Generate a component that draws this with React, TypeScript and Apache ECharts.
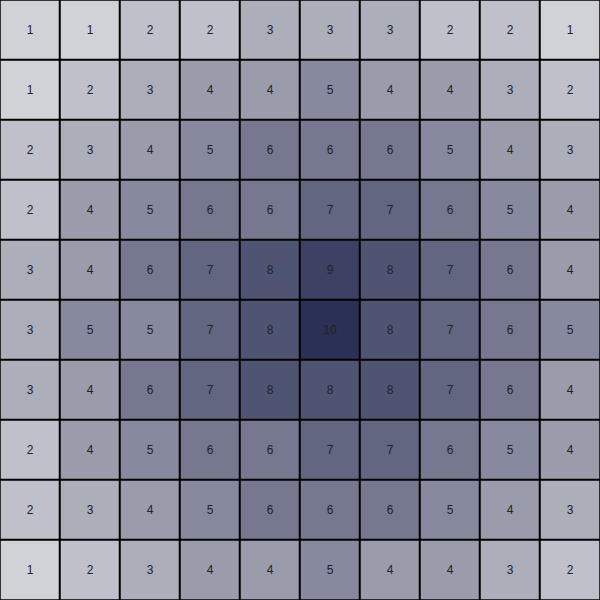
import React, { useEffect, useRef } from "react";
import * as echarts from "echarts";

const xCategories = ["0", "1", "2", "3", "4", "5", "6", "7", "8", "9"];
const yCategories = ["0", "1", "2", "3", "4", "5", "6", "7", "8", "9"];
// rows from top to bottom
const row0 = [1, 1, 2, 2, 3, 3, 3, 2, 2, 1];
const row1 = [1, 2, 3, 4, 4, 5, 4, 4, 3, 2];
const row2 = [2, 3, 4, 5, 6, 6, 6, 5, 4, 3];
const row3 = [2, 4, 5, 6, 6, 7, 7, 6, 5, 4];
const row4 = [3, 4, 6, 7, 8, 9, 8, 7, 6, 4];
const row5 = [3, 5, 5, 7, 8, 10, 8, 7, 6, 5];
const row6 = [3, 4, 6, 7, 8, 8, 8, 7, 6, 4];
const row7 = [2, 4, 5, 6, 6, 7, 7, 6, 5, 4];
const row8 = [2, 3, 4, 5, 6, 6, 6, 5, 4, 3];
const row9 = [1, 2, 3, 4, 4, 5, 4, 4, 3, 2];
const rows = [row0, row1, row2, row3, row4, row5, row6, row7, row8, row9];

export default function App() {
  const ref = useRef<HTMLDivElement>(null);
  useEffect(() => {
    if (!ref.current) return;
    const chart = echarts.init(ref.current, null, { renderer: "svg" });
    const data: number[][] = [];
    rows.forEach((r, yi) => r.forEach((v, xi) => data.push([xi, yi, v])));
    chart.setOption({
      animation: false,
      grid: { left: -1, right: -1, top: -1, bottom: -1 },
      xAxis: { type: "category", data: xCategories, show: false },
      yAxis: { type: "category", data: yCategories, inverse: true, show: false },
      visualMap: {
        show: false,
        min: 1,
        max: 10,
        dimension: 2,
        inRange: { color: ["#d1d2d7", "#2b3056"] },
      },
      series: [
        {
          type: "heatmap",
          data,
          label: {
            show: true,
            fontSize: 12,
            color: "#222",
            fontFamily: "sans-serif",
            textBorderWidth: 0,
            textBorderColor: "transparent",
          },
          itemStyle: { borderColor: "#000", borderWidth: 2 },
        },
      ],
    });
    return () => chart.dispose();
  }, []);
  return (
    <div
      ref={ref}
      style={{ position: "absolute", left: 0, top: 0, width: 600, height: 600 }}
    />
  );
}
